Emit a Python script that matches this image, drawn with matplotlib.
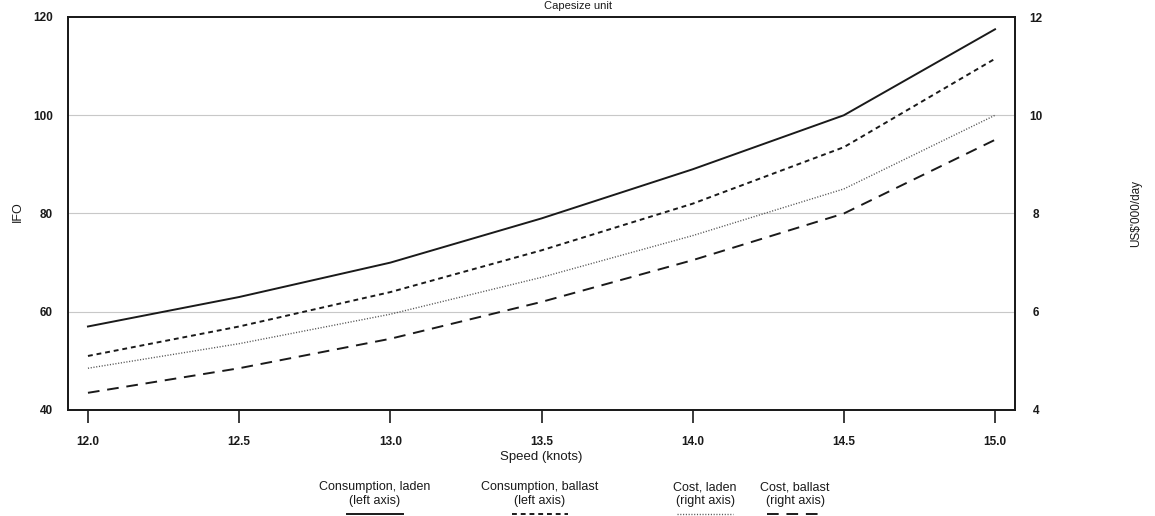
import matplotlib
matplotlib.use("Agg")
import matplotlib.pyplot as plt
from matplotlib.lines import Line2D

plt.rcParams['font.family'] = ['Liberation Sans', 'DejaVu Sans']

speed = [12.0, 12.5, 13.0, 13.5, 14.0, 14.5, 15.0]
cons_laden = [57.0, 63.0, 70.0, 79.0, 89.0, 100.0, 117.5]     # IFO, left axis
cons_ballast = [51.0, 57.0, 64.0, 72.5, 82.0, 93.5, 111.5]    # IFO, left axis
cost_laden = [4.85, 5.35, 5.95, 6.7, 7.55, 8.5, 10.0]         # US$'000/day, right axis
cost_ballast = [4.35, 4.85, 5.45, 6.2, 7.05, 8.0, 9.5]        # US$'000/day, right axis

xticks = [12.0, 12.5, 13.0, 13.5, 14.0, 14.5, 15.0]
left_ticks = [40, 60, 80, 100, 120]
right_ticks = [4, 6, 8, 10, 12]
legend_labels = ["Consumption, laden\n(left axis)", "Consumption, ballast\n(left axis)",
                 "Cost, laden\n(right axis)", "Cost, ballast\n(right axis)"]

W, H = 1155, 516
fig = plt.figure(figsize=(W / 100, H / 100), dpi=100)
ax = fig.add_axes([68 / W, 1 - 410 / H, (1015 - 68) / W, (410 - 17) / H])
ax2 = ax.twinx()

ink = "#1a1a1a"
styles = [
    dict(color=ink, lw=1.4, ls="-"),
    dict(color=ink, lw=1.4, ls=(0, (2.5, 2.0))),
    dict(color="#555555", lw=1.0, ls=(0, (0.8, 1.2))),
    dict(color=ink, lw=1.4, ls=(0, (6, 4))),
]

for v in [60, 80, 100]:
    ax.axhline(v, color="#c8c8c8", lw=0.8, zorder=0)

ax.plot(speed, cons_laden, **styles[0])
ax.plot(speed, cons_ballast, **styles[1])
ax2.plot(speed, cost_laden, **styles[2])
ax2.plot(speed, cost_ballast, **styles[3])

ax.set_xlim(11.934, 15.066)
ax.set_ylim(40, 120)
ax2.set_ylim(4, 12)

ax.set_xticks(xticks)
ax.set_xticklabels(["%.1f" % t for t in xticks])
ax.set_yticks(left_ticks)
ax2.set_yticks(right_ticks)

ax.tick_params(axis="x", direction="out", length=9, width=1.2, pad=10,
               labelsize=8.5, colors=ink)
ax.tick_params(axis="y", length=0, pad=11, labelsize=8.5, colors=ink)
ax2.tick_params(axis="y", length=0, pad=15, labelsize=8.5, colors=ink)
for lab in ax.get_xticklabels() + ax.get_yticklabels() + ax2.get_yticklabels():
    lab.set_fontweight("bold")
for lab in ax2.get_yticklabels():
    lab.set_horizontalalignment("center")

for a in (ax, ax2):
    for s in a.spines.values():
        s.set_linewidth(1.3)
        s.set_color(ink)

ax.set_xlabel("Speed (knots)", fontsize=9.5, color=ink, labelpad=2)
fig.text(18 / W, 1 - 212 / H, "IFO", rotation=90, ha="center", va="center",
         fontsize=9, color=ink)
fig.text(1136 / W, 1 - 213 / H, "US$'000/day", rotation=90, ha="center",
         va="center", fontsize=8.5, color=ink)

# title sits right at the top edge of the scan
fig.text(578 / W, 1 - 1 / H, "Capesize unit", ha="center", va="top",
         fontsize=8, color=ink)

# legend below the plot: two-line label with a line sample underneath
centers = [375, 540, 705, 795]
for cx, lab, st in zip(centers, legend_labels, styles):
    fig.text(cx / W, 1 - 494 / H, lab, ha="center", va="center",
             fontsize=9, color=ink, linespacing=1.15)
    fig.add_artist(Line2D([(cx - 28) / W, (cx + 28) / W],
                          [1 - 514 / H, 1 - 514 / H],
                          transform=fig.transFigure, **st))

fig.savefig("out.png", dpi=100)
